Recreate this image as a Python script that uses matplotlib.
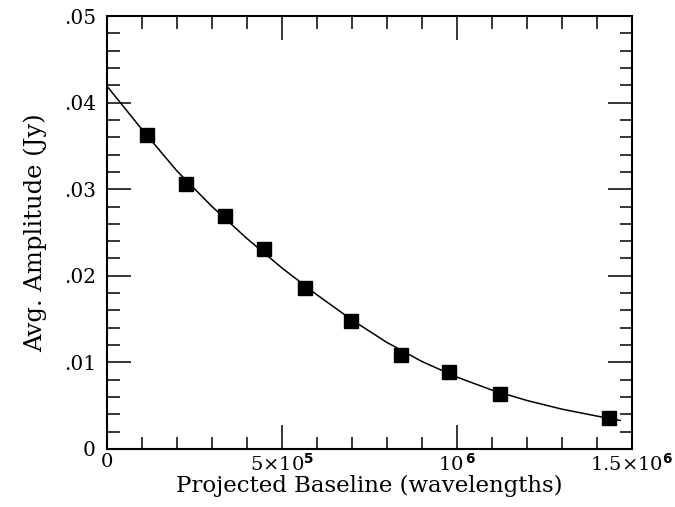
import matplotlib

matplotlib.use("Agg")
import matplotlib.pyplot as plt
from matplotlib.ticker import FixedLocator, MultipleLocator

plt.rcParams["font.family"] = ["DejaVu Serif"]
plt.rcParams["mathtext.fontset"] = "custom"
plt.rcParams["mathtext.rm"] = "DejaVu Serif"
plt.rcParams["mathtext.sf"] = "DejaVu Sans:bold"

# measured points (baseline in wavelengths, amplitude in Jy)
baseline = [1.14e5, 2.26e5, 3.37e5, 4.49e5, 5.66e5, 6.97e5, 8.40e5, 9.77e5, 1.123e6, 1.434e6]
amplitude = [0.0363, 0.0306, 0.0269, 0.0231, 0.0186, 0.0148, 0.0108, 0.0089, 0.0064, 0.0036]

# model curve
fit_x = [0, 1e5, 2e5, 3e5, 4e5, 5e5, 6e5, 7e5, 8e5, 9e5, 1.0e6, 1.1e6, 1.2e6, 1.3e6, 1.4e6, 1.466e6]
fit_y = [0.0419, 0.0369, 0.0321, 0.0280, 0.0243, 0.0209, 0.0178, 0.0149, 0.0123, 0.0101,
         0.0083, 0.0068, 0.0056, 0.0046, 0.0038, 0.0033]

x_ticks = [0, 5e5, 1e6, 1.5e6]
x_labels = ["0", r"$5{\times}10^{\mathsf{5}}$", r"$10^{\,\mathsf{6}}$", r"$1.5{\times}10^{\mathsf{6}}$"]
y_ticks = [0, 0.01, 0.02, 0.03, 0.04, 0.05]
y_labels = ["0", ".01", ".02", ".03", ".04", ".05"]

fig = plt.figure(figsize=(6.75, 5.07), dpi=100)
ax = fig.add_axes([0.1585, 0.1144, 0.7778, 0.8540])

ax.plot(fit_x, fit_y, color="black", lw=1.1, zorder=2)
ax.plot(baseline, amplitude, ls="none", marker="s", ms=9.5, color="black", zorder=3)

ax.set_xlim(0, 1.5e6)
ax.set_ylim(0, 0.05)

ax.xaxis.set_major_locator(FixedLocator(x_ticks))
ax.set_xticklabels(x_labels)
ax.xaxis.set_minor_locator(MultipleLocator(1e5))
ax.yaxis.set_major_locator(FixedLocator(y_ticks))
ax.set_yticklabels(y_labels)
ax.yaxis.set_minor_locator(MultipleLocator(0.002))

ax.tick_params(which="both", direction="in", top=True, right=True, width=1.1)
ax.tick_params(which="major", length=17, labelsize=14.5)
ax.tick_params(axis="x", which="major", pad=3, labelsize=14)
ax.tick_params(axis="y", which="major", pad=8)
ax.tick_params(which="minor", length=9)
for sp in ax.spines.values():
    sp.set_linewidth(1.5)

ax.set_xlabel("Projected Baseline (wavelengths)", fontsize=16.5, labelpad=0)
ax.set_ylabel("Avg. Amplitude (Jy)", fontsize=17.5, labelpad=12)

fig.savefig("out.png", dpi=100)
